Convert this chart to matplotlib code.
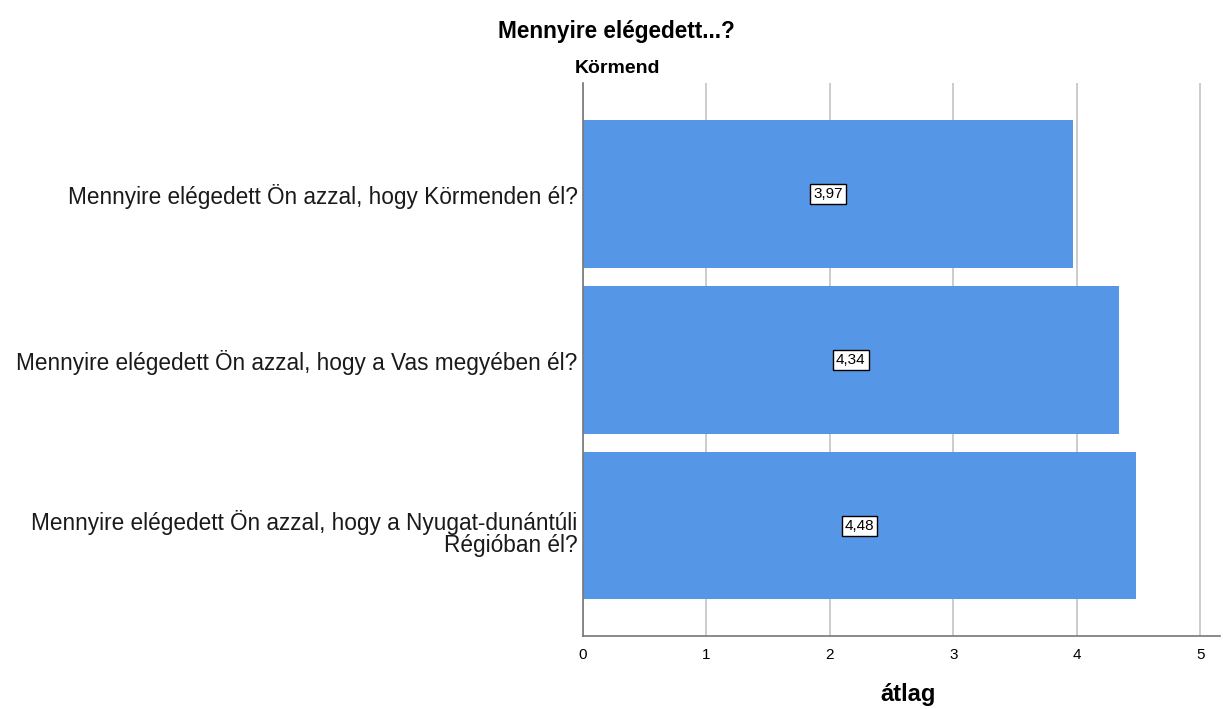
import matplotlib
matplotlib.use('Agg')
import matplotlib.pyplot as plt
import matplotlib.transforms as mtransforms

plt.rcParams['font.family'] = ['Liberation Sans', 'DejaVu Sans']

# data
questions = [
    'Mennyire elégedett Ön azzal, hogy Körmenden él?',
    'Mennyire elégedett Ön azzal, hogy a Vas megyében él?',
    'Mennyire elégedett Ön azzal, hogy a Nyugat-dunántúli\nRégióban él?',
]
means = [3.97, 4.34, 4.48]
value_labels = ['3,97', '4,34', '4,48']
xticks = [0, 1, 2, 3, 4, 5]

fig = plt.figure(figsize=(12.23, 7.09), dpi=100)
ax = fig.add_axes([0.4767, 0.103, 0.5208, 0.780])

ypos = list(range(len(questions)))
ax.barh(ypos, means, height=0.89, color='#5596E6', zorder=2)

for y, m, lab in zip(ypos, means, value_labels):
    ax.text(m / 2, y, lab, ha='center', va='center', fontsize=11, zorder=3,
            bbox=dict(boxstyle='square,pad=0.2', fc='white', ec='black', lw=1.0))

ax.set_xlim(0, 5.16)
ax.set_ylim(2.665, -0.67)
ax.set_yticks(ypos)
ax.set_yticklabels(questions, fontsize=16.3, linespacing=0.93, color='#1a1a1a')
ax.set_xticks(xticks)
ax.set_xticklabels([str(t) for t in xticks], fontsize=11)
ax.tick_params(axis='y', length=0, pad=4)
ax.tick_params(axis='x', length=0, pad=9)
ylabs = ax.get_yticklabels()
for lab in ylabs:
    lab.set_multialignment('right')
# the two-line label sits a little below the bar centre in the reference
shift = mtransforms.ScaledTranslation(0, -0.06, fig.dpi_scale_trans)
ylabs[2].set_transform(ylabs[2].get_transform() + shift)

ax.grid(axis='x', color='#c8c8c8', lw=1.3, zorder=0)
for s in ['top', 'right']:
    ax.spines[s].set_visible(False)
for s in ['left', 'bottom']:
    ax.spines[s].set_color('#777777')
    ax.spines[s].set_linewidth(1.2)

ax.set_xlabel('átlag', fontsize=17, fontweight='bold')
ax.xaxis.set_label_coords(0.511, -0.085)
fig.text(0.504, 0.955, 'Mennyire elégedett...?', ha='center', va='center',
         fontsize=16.3, fontweight='bold')
fig.text(0.470, 0.903, 'Körmend', ha='left', va='center',
         fontsize=14, fontweight='bold')

fig.savefig('out.png', dpi=100)
